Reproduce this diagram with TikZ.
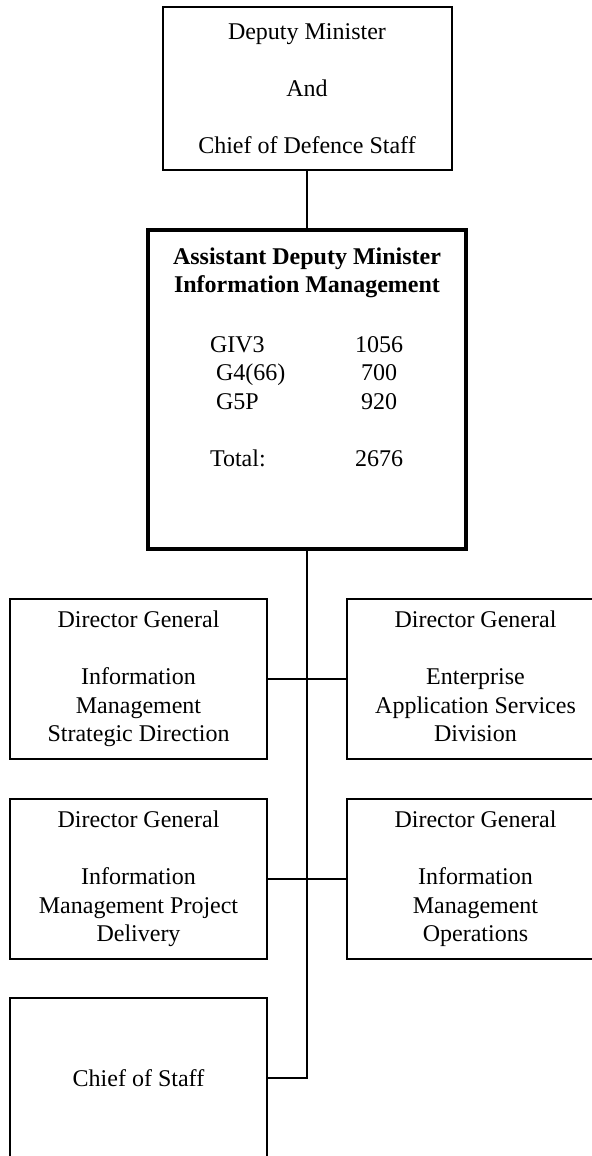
\documentclass[tikz,border=0pt]{standalone}
\usepackage{fontspec}
\setmainfont{Liberation Serif}
\usetikzlibrary{positioning}

% one line of the staff count: grade, then number
\newcommand{\staffrow}[2]{\makebox[60pt][l]{#1}\makebox[49pt][c]{#2}}

\begin{document}
\begin{tikzpicture}[x=0.5pt, y=-0.5pt,
    every node/.style={font=\fontsize{12}{14.2}\selectfont, align=center},
    unit/.style={draw, line width=1pt, minimum width=128.5pt, minimum height=80pt, inner sep=0pt},
    link/.style={line width=1pt}]
    \useasboundingbox (0, 0) rectangle (592, 1156);
    \clip (0, 0) rectangle (592, 1156);

    % Top of the chain
    \node[draw, line width=1pt, minimum width=144.5pt, minimum height=81.5pt] (dm) at (307, 88.5)
        {Deputy Minister\\[14.2pt] And\\[14.2pt] Chief of Defence Staff};

    % ADM box and its staff count
    \node[draw, line width=2.25pt, minimum width=159pt, minimum height=159.5pt] (adm) at (307, 389.5) {};
    \node[font=\bfseries\fontsize{12}{14.2}\selectfont] (admtitle) at (307, 273)
        {Assistant Deputy Minister\\ Information Management};
    \node[align=left, inner sep=0pt] (admcount) at (319, 401.5)
        {\staffrow{GIV3}{1056}\\ \staffrow{\ G4(66)}{700}\\ \staffrow{\ G5P}{920}\\[14.2pt] \staffrow{Total:}{2676}};

    % Directors general
    \node[unit] (dgimsd) at (138.5, 679)
        {\strut Director General\\[14.2pt] Information\\ Management\\ Strategic Direction\strut};
    \node[unit] (dgeas) at (475.5, 679)
        {\strut Director General\\[14.2pt] Enterprise\\ Application Services\\ Division\strut};
    \node[unit] (dgimpd) at (138.5, 879)
        {\strut Director General\\[14.2pt] Information\\ Management Project\\ Delivery\strut};
    \node[unit] (dgimo) at (475.5, 879)
        {\strut Director General\\[14.2pt] Information\\ Management\\ Operations\strut};
    \node[unit] (cos) at (138.5, 1078) {Chief of Staff};

    % Lines of report
    \draw[link] (dm) -- (adm);
    \draw[link] (adm) |- (cos);
    \draw[link] (dgimsd) -- (dgeas);
    \draw[link] (dgimpd) -- (dgimo);
\end{tikzpicture}
\end{document}
